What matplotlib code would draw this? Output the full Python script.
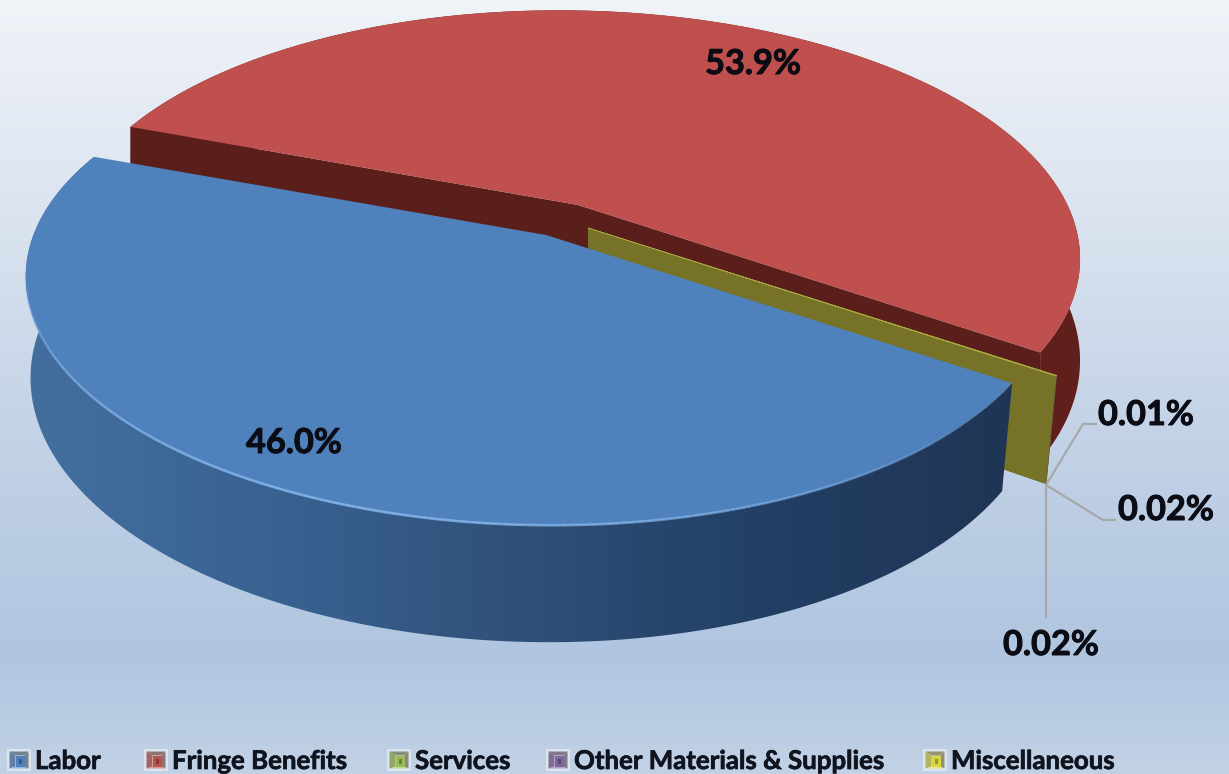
import numpy as np
import matplotlib
matplotlib.use("Agg")
import matplotlib.pyplot as plt
import matplotlib.patheffects as pe
from matplotlib.collections import LineCollection
from matplotlib.colors import LinearSegmentedColormap, to_rgb
from matplotlib.patches import Polygon, Rectangle

# Budget shares, in percent
categories = ["Labor", "Fringe Benefits", "Services", "Other Materials & Supplies", "Miscellaneous"]
shares = [46.0, 53.9, 0.02, 0.02, 0.01]
share_labels = ["46.0%", "53.9%", "0.02%", "0.02%", "0.01%"]

W, H = 1229, 774
FACE = ["#4f81bd", "#c0504d", "#9bbb59", "#8064a2", "#d6d646"]
WALL = ["#23395c", "#5a1f1b", "#5f7530", "#4a3a60", "#767329"]
# Where each slice's apex sits after being pulled out of the pie
APEX = [(546, 235), (578, 205), (588, 228), (588, 228), (588, 228)]
WIDTH_SCALE = [0.985, 0.975, 0.99, 0.99, 0.99]
LOWER_SX = [0.985, 1.0, 0.978, 0.978, 0.978]
LOWER_SHIFT = [-3, 0, 0, 0, 0]
FIRST_ANGLE = -35.0

# Perspective of the pie plane and of the lower rim
RX, RY, KY, KX, SHEAR = 511.0, 233.0, 0.197, 0.018, 0.06
DROP, SY = 98.4, 1.064


def project(theta, idx, lower=False):
    """Map a pie angle (degrees) on slice idx's outer edge to pixel positions."""
    t = np.radians(np.asarray(theta, dtype=float))
    x, y = np.cos(t), np.sin(t)
    w = 1 + KY * y + KX * x
    dx, dy = RX * WIDTH_SCALE[idx] * x / w, -RY * y / w
    dx = dx + SHEAR * dy
    cx, cy = APEX[idx]
    if lower:
        return np.c_[cx + LOWER_SHIFT[idx] + LOWER_SX[idx] * dx, cy + DROP + SY * dy]
    return np.c_[cx + dx, cy + dy]


def apex_point(idx, lower=False):
    cx, cy = APEX[idx]
    return np.array([[cx, cy + (DROP if lower else 0)]], dtype=float)


def gradient_fill(ax, poly, stops, zorder=1):
    """Paint a polygon with a left-to-right gradient given as (position, colour) stops."""
    cmap = LinearSegmentedColormap.from_list("g", stops)
    im = ax.imshow(np.linspace(0, 1, 512)[None, :], cmap=cmap, vmin=0, vmax=1,
                   extent=(0, W, H, 0), aspect="auto", interpolation="bilinear", zorder=zorder)
    patch = Polygon(poly, closed=True, transform=ax.transData, fc="none", ec="none")
    ax.add_patch(patch)
    im.set_clip_path(patch)


fig = plt.figure(figsize=(W / 100, H / 100), dpi=100)
ax = fig.add_axes((0, 0, 1, 1))
ax.set_xlim(0, W)
ax.set_ylim(H, 0)
ax.axis("off")

# Backdrop
bg = LinearSegmentedColormap.from_list("bg", [
    (0.0, "#f0f3f8"), (0.25, "#dde5f0"), (0.55, "#c4d3e7"),
    (0.85, "#b0c5e0"), (1.0, "#c2d2e6")])
ax.imshow(np.linspace(0, 1, 512)[:, None], cmap=bg, extent=(0, W, H, 0),
          aspect="auto", zorder=0)
ax.set_xlim(0, W)
ax.set_ylim(H, 0)

# Slice angles run clockwise from the first slice's edge
total = sum(shares)
edges = FIRST_ANGLE - np.cumsum([0] + [s / total * 360 for s in shares])
spans = [(edges[i + 1], edges[i]) for i in range(len(shares))]

# Fringe Benefits: rim, cut faces, top
lo, hi = spans[1]
arc = np.linspace(lo, hi, 300)
rim = np.r_[project(arc, 1), project(arc[::-1], 1, True)]
ax.add_patch(Polygon(rim, fc="#611f1b", ec="none", zorder=2))
for a in (lo, hi):
    wall = np.r_[apex_point(1), project([a], 1), project([a], 1, True), apex_point(1, True)]
    ax.add_patch(Polygon(wall, fc=WALL[1], ec="none", zorder=3))
ax.add_patch(Polygon(np.r_[apex_point(1), project(arc, 1)], fc=FACE[1], ec="none", zorder=4))

# The three tiny slices: only the cut face and a sliver of top show
for i in (2, 3, 4):
    lo, hi = spans[i]
    wall = np.r_[apex_point(i), project([lo], i), project([lo], i, True), apex_point(i, True)]
    ax.add_patch(Polygon(wall, fc=WALL[i], ec="none", zorder=5 + i * 0.1))
    top = np.r_[apex_point(i), project(np.linspace(lo, hi, 3), i)]
    ax.add_patch(Polygon(top, fc=FACE[i], ec="#a8a83c", lw=0.35, zorder=5 + i * 0.1))

# Labor: shaded rim, top, lit front edge
lo, hi = spans[0]
arc = np.linspace(lo, hi, 400)
rim = np.r_[project(arc, 0), project(arc[::-1], 0, True)]
gradient_fill(ax, rim, [(0.0, "#44709f"), (0.1, "#3f6a9b"), (0.25, "#38608f"),
                        (0.42, "#2f5078"), (0.62, "#233f65"), (0.8, "#1f3656"),
                        (1.0, "#1e3352")], zorder=6)
ax.add_patch(Polygon(np.r_[apex_point(0), project(arc, 0)], fc=FACE[0], ec="none", zorder=7))
front = project(np.linspace(-172, -45, 240), 0)
segs = np.stack([front[:-1], front[1:]], axis=1)
fade = np.sin(np.linspace(0, np.pi, len(segs))) ** 0.7
seg_rgba = np.c_[np.tile(to_rgb("#85b6ec"), (len(segs), 1)), 0.85 * fade]
ax.add_collection(LineCollection(segs, colors=seg_rgba, linewidths=1.9, zorder=8))

# Leader lines for the tiny slices
LEADER_COLOR = "#a8a8a8"
origin = (1046, 485)
for xs, ys in [((origin[0], 1083, 1097), (origin[1], 424, 424)),
               ((origin[0], 1103, 1116), (origin[1], 520, 520)),
               ((origin[0], origin[0]), (origin[1], 618))]:
    ax.plot(xs, ys, color=LEADER_COLOR, lw=1.6, zorder=9, solid_capstyle="butt")

# Value labels
INK = "#0c0c14"
heavy = [pe.withStroke(linewidth=0.7, foreground=INK)]
label_font = dict(family="Lato", weight="bold", fontsize=24.7, color=INK,
                  ha="center", va="center", zorder=10, path_effects=heavy)
label_pos = [(294, 443), (753, 64), (1051, 645), (1166, 510), (1146, 415)]
for text, (lx, ly) in zip(share_labels, label_pos):
    ax.text(lx, ly, text, **label_font)

# Legend along the bottom edge
legend_x = [7, 144, 387, 546, 923]
KEY_Y, KEY_W, KEY_H = 749, 24, 22
for name, x0, col in zip(categories, legend_x, FACE):
    rgb = np.array(to_rgb(col))
    grey = np.array([0.5, 0.5, 0.5])
    ax.add_patch(Rectangle((x0, KEY_Y), KEY_W, KEY_H, fc="#dce4ef", ec="none", zorder=9))
    m = 2.5
    a, b = x0 + m, x0 + KEY_W - m
    t, u = KEY_Y + m, KEY_Y + KEY_H - m
    i0, i1, j0, j1 = a + 6, b - 4, t + 4, u - 2
    sides = [((a, t), (b, t), (i1, j0), (i0, j0)), ((a, t), (i0, j0), (i0, j1), (a, u)),
             ((a, u), (i0, j1), (i1, j1), (b, u)), ((b, t), (i1, j0), (i1, j1), (b, u))]
    shades = [0.25 * rgb + 0.75 * grey, 0.6 * rgb + 0.4 * grey,
              0.6 * rgb + 0.4 * np.ones(3), 0.2 * rgb + 0.8 * grey]
    for quad, shade in zip(sides, shades):
        ax.add_patch(Polygon(quad, fc=shade, ec="none", zorder=9.5))
    ax.add_patch(Rectangle((i0, j0), i1 - i0, j1 - j0, fc=rgb, ec="none", zorder=9.6))
    ax.add_patch(Rectangle((i0 + 3, j0 + 3), i1 - i0 - 6, j1 - j0 - 6, fc=0.7 * rgb, ec="none", zorder=9.7))
    ax.text(x0 + KEY_W + 4, 761, name, family="Lato", weight="bold", fontsize=18.6,
            color="#10141f", ha="left", va="center", zorder=10,
            path_effects=[pe.withStroke(linewidth=0.5, foreground="#10141f")])

fig.savefig("out.png", dpi=100)
